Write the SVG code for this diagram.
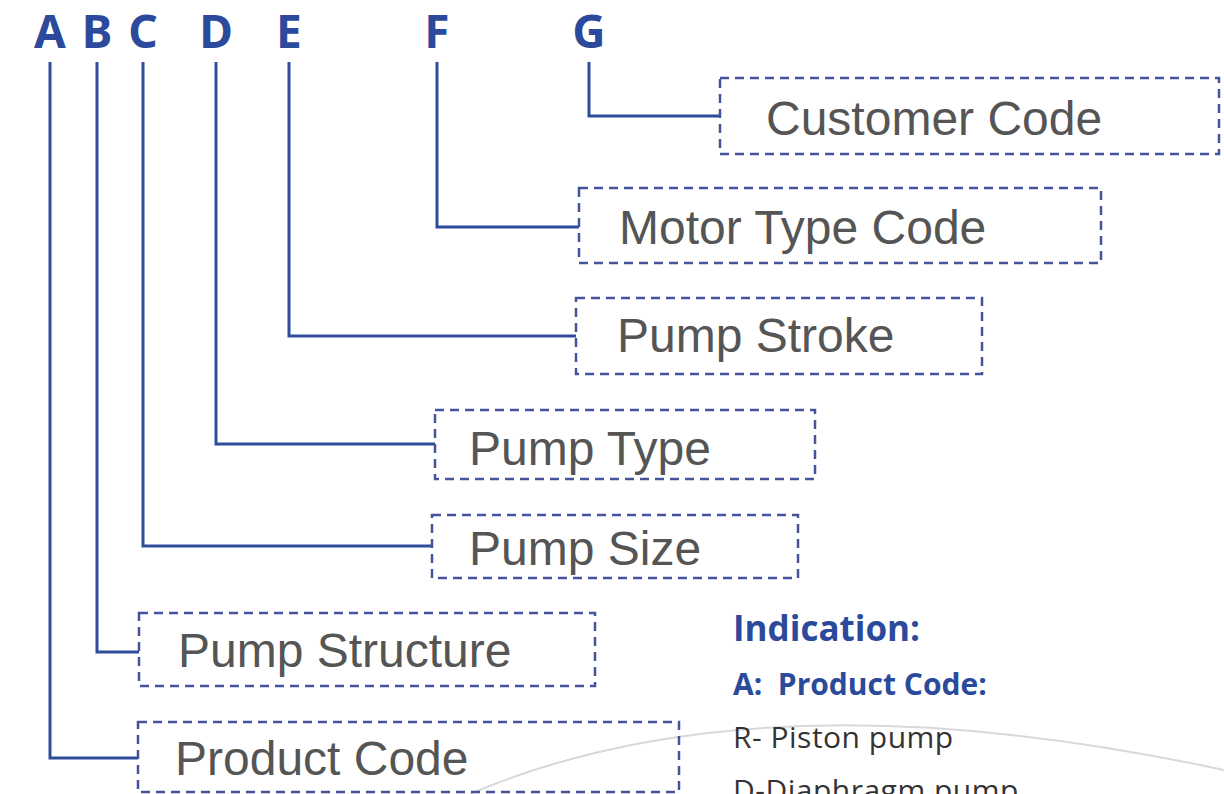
<svg xmlns="http://www.w3.org/2000/svg" width="1224" height="794" viewBox="0 0 1224 794">
<style>
.lt{font-family:"Noto Sans","Open Sans",sans-serif;font-weight:bold;font-size:46px;fill:#2b4a9b;text-anchor:middle}
.box{fill:none;stroke:#45539a;stroke-width:2.5;stroke-dasharray:9 6}
.lbl{font-family:"Liberation Sans",Arial,sans-serif;font-size:48px;fill:#555}
.conn{fill:none;stroke:#2d4d9a;stroke-width:3}
.ind{font-family:"Open Sans","Noto Sans",sans-serif;font-weight:bold;fill:#2b4a9b}
.txt{font-family:"Open Sans","Noto Sans",sans-serif;font-size:30px;fill:#333;letter-spacing:0.5px}
</style>
<rect width="1224" height="794" fill="#fff"/>
<g id="background">
<path d="M470 794 Q 760 670 1224 770" fill="none" stroke="#d8d8d8" stroke-width="2"/>
</g>
<g id="letters">
<text class="lt" x="50" y="48">A</text>
<text class="lt" x="97" y="48">B</text>
<text class="lt" x="143" y="48">C</text>
<text class="lt" x="216" y="48">D</text>
<text class="lt" x="289" y="48">E</text>
<text class="lt" x="437" y="48">F</text>
<text class="lt" x="589" y="48">G</text>
</g>
<g id="connectors">
<path class="conn" d="M50 62 V758 H138"/>
<path class="conn" d="M97 62 V652 H139"/>
<path class="conn" d="M143 62 V546 H432"/>
<path class="conn" d="M216 62 V444 H435"/>
<path class="conn" d="M289 62 V336 H576"/>
<path class="conn" d="M437 62 V227 H579"/>
<path class="conn" d="M589 62 V116 H720"/>
</g>
<g id="node-customer-code">
<rect class="box" x="720" y="78" width="499" height="76"/>
<text class="lbl" x="766" y="135">Customer Code</text>
</g>
<g id="node-motor-type-code">
<rect class="box" x="579" y="188" width="522" height="75"/>
<text class="lbl" x="619" y="244">Motor Type Code</text>
</g>
<g id="node-pump-stroke">
<rect class="box" x="576" y="298" width="406" height="76"/>
<text class="lbl" x="617" y="352">Pump Stroke</text>
</g>
<g id="node-pump-type">
<rect class="box" x="435" y="410" width="380" height="69"/>
<text class="lbl" x="469" y="465">Pump Type</text>
</g>
<g id="node-pump-size">
<rect class="box" x="432" y="515" width="366" height="63"/>
<text class="lbl" x="469" y="565">Pump Size</text>
</g>
<g id="node-pump-structure">
<rect class="box" x="139" y="613" width="456" height="73"/>
<text class="lbl" x="178" y="667">Pump Structure</text>
</g>
<g id="node-product-code">
<rect class="box" x="138" y="722" width="541" height="70"/>
<text class="lbl" x="175" y="775">Product Code</text>
</g>
<g id="indication">
<text class="ind" x="733" y="641" font-size="35">Indication:</text>
<text class="ind" x="733" y="695" font-size="30" xml:space="preserve">A:  Product Code:</text>
<text class="txt" x="733" y="748">R- Piston pump</text>
<text class="txt" x="733" y="801">D-Diaphragm pump</text>
</g>
</svg>
